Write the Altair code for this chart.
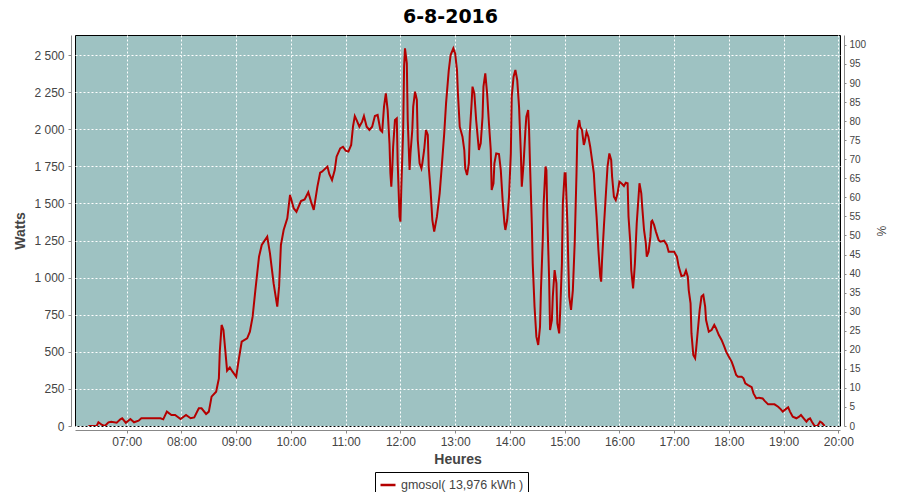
import altair as alt
import pandas as pd

TITLE = "6-8-2016"
SERIES = "gmosol( 13,976 kWh )"

times = [
    "06:18", "06:27", "06:29", "06:33", "06:36", "06:40", "06:43", "06:49", "06:53", "06:55", "06:59",
    "07:04", "07:08", "07:13", "07:16", "07:37", "07:40", "07:44", "07:49", "07:53", "07:59",
    "08:05", "08:10", "08:14", "08:19", "08:22", "08:27", "08:30", "08:33", "08:38", "08:41", "08:42", "08:44", "08:46", "08:48", "08:50", "08:53", "08:56",
    "09:00", "09:03", "09:06", "09:12", "09:15", "09:18", "09:21", "09:25", "09:28", "09:34", "09:37", "09:41", "09:45", "09:47", "09:49", "09:52", "09:56", "09:59",
    "10:03", "10:06", "10:11", "10:15", "10:19", "10:22", "10:25", "10:29", "10:32", "10:34", "10:40", "10:42", "10:45", "10:48", "10:50", "10:54", "10:57",
    "11:00", "11:03", "11:06", "11:08", "11:10", "11:12", "11:15", "11:18", "11:20", "11:23", "11:26", "11:29", "11:32", "11:35", "11:38", "11:40", "11:42", "11:44", "11:46", "11:48", "11:49", "11:50", "11:51", "11:52", "11:54", "11:56", "11:57", "11:59",
    "12:00", "12:01", "12:03", "12:04", "12:05", "12:07", "12:08", "12:10", "12:11", "12:13", "12:14", "12:16", "12:18", "12:19", "12:21", "12:23", "12:24", "12:26", "12:28", "12:30", "12:31", "12:33", "12:35", "12:37", "12:40", "12:43", "12:45", "12:48", "12:50", "12:53", "12:55", "12:58",
    "13:00", "13:02", "13:03", "13:05", "13:08", "13:10", "13:11", "13:13", "13:15", "13:16", "13:18", "13:19", "13:21", "13:23", "13:25", "13:26", "13:28", "13:30", "13:31", "13:33", "13:35", "13:37", "13:39", "13:40", "13:42", "13:43", "13:45", "13:48", "13:50", "13:52", "13:54", "13:55", "13:57", "13:59",
    "14:01", "14:02", "14:04", "14:06", "14:08", "14:10", "14:12", "14:13", "14:15", "14:17", "14:18", "14:20", "14:21", "14:22", "14:24", "14:25", "14:27", "14:29", "14:31", "14:33", "14:34", "14:36", "14:37", "14:39", "14:40", "14:41", "14:43", "14:44", "14:46", "14:47", "14:49", "14:51", "14:52", "14:54", "14:55", "14:57", "14:58",
    "15:00", "15:01", "15:03", "15:04", "15:05", "15:07", "15:09", "15:11", "15:13", "15:14", "15:16", "15:17", "15:19", "15:21", "15:22", "15:24", "15:26", "15:28", "15:30", "15:32", "15:33", "15:35", "15:37", "15:39", "15:40", "15:41", "15:43", "15:45", "15:47", "15:49", "15:51", "15:52", "15:54", "15:56", "15:58",
    "16:00", "16:03", "16:05", "16:07", "16:09", "16:10", "16:12", "16:13", "16:15", "16:16", "16:17", "16:19", "16:21", "16:22", "16:24", "16:25", "16:27", "16:29", "16:30", "16:32", "16:34", "16:35", "16:36", "16:38", "16:40", "16:43", "16:45", "16:49", "16:52", "16:54", "16:57",
    "17:00", "17:03", "17:05", "17:08", "17:11", "17:13", "17:15", "17:16", "17:18", "17:19", "17:21", "17:23", "17:24", "17:26", "17:28", "17:30", "17:32", "17:34", "17:35", "17:38", "17:41", "17:44", "17:46", "17:49", "17:52", "17:55", "17:57",
    "18:00", "18:03", "18:05", "18:08", "18:10", "18:14", "18:16", "18:18", "18:21", "18:25", "18:27", "18:30", "18:33", "18:37", "18:39", "18:43", "18:46", "18:50", "18:54", "18:57", "18:59",
    "19:02", "19:05", "19:07", "19:10", "19:14", "19:17", "19:19", "19:22", "19:25", "19:27", "19:29", "19:31", "19:34", "19:37", "19:40", "19:42", "19:45",
]

watts = [
    0, 0, 25, 7, 0, 25, 29, 22, 45, 52, 22,
    47, 25, 36, 52, 52, 45, 97, 74, 74, 47,
    74, 52, 58, 119, 119, 81, 97, 198, 231, 321, 501, 681, 647, 512, 373, 395, 366,
    332, 456, 568, 591, 636, 737, 916, 1141, 1220, 1276, 1163, 961, 804, 939, 1220, 1321, 1399, 1557,
    1467, 1444, 1516, 1527, 1575, 1512, 1456, 1613, 1707, 1714, 1748, 1698, 1658, 1725, 1815, 1871, 1882,
    1855, 1849, 1894, 2017, 2089, 2062, 2017, 2051, 2089, 2017, 1995, 2017, 2089, 2096, 1995, 1983, 2152, 2242, 2129, 1905, 1703, 1613, 1725, 1882, 2062, 2073, 1770, 1411,
    1377, 1613, 1995, 2421, 2545, 2444, 2062, 1725, 1837, 1995, 2152, 2253, 2197, 1927, 1770, 1736, 1770, 1860, 1995, 1961, 1748, 1591, 1388, 1310, 1411, 1568, 1725, 1972, 2174, 2399, 2500, 2545,
    2511, 2399, 2242, 2017, 1950, 1860, 1736, 1691, 1770, 1972, 2174, 2287, 2242, 2062, 1927, 1860, 1905, 2084, 2287, 2377, 2242, 2040, 1860, 1591, 1636, 1770, 1837, 1833, 1725, 1523, 1366, 1321, 1388, 1545,
    1837, 2220, 2354, 2399, 2332, 2152, 1837, 1613, 1770, 1995, 2084, 2129, 1995, 1770, 1366, 1096, 804, 602, 546, 669, 916, 1253, 1500, 1748, 1725, 1411, 984, 647, 714, 872, 1051, 961, 692, 624, 759, 1096, 1500,
    1703, 1703, 1366, 1096, 872, 782, 916, 1231, 1703, 1995, 2062, 2017, 1995, 1894, 1916, 1983, 1950, 1882, 1793, 1703, 1591, 1411, 1186, 1006, 973, 1119, 1343, 1545, 1748, 1837, 1793, 1681, 1545, 1523, 1568,
    1647, 1631, 1617, 1640, 1636, 1411, 1231, 1051, 928, 1006, 1096, 1366, 1545, 1636, 1568, 1478, 1321, 1231, 1141, 1175, 1276, 1377, 1384, 1355, 1310, 1253, 1242, 1249, 1220, 1175, 1175,
    1175, 1141, 1074, 1011, 1015, 1047, 1006, 916, 827, 624, 478, 456, 512, 647, 782, 872, 883, 804, 714, 636, 647, 681, 658, 613, 580, 535, 501,
    467, 434, 400, 344, 332, 332, 321, 288, 276, 261, 220, 186, 191, 186, 171, 146, 146, 146, 130, 112, 97,
    112, 126, 97, 63, 52, 63, 74, 52, 29, 45, 52, 29, 0, 0, 29, 22, 0,
]

x_ticks = list(range(7, 21))
w_ticks = list(range(0, 2501, 250))
pct_ticks = list(range(0, 101, 5))

X_DOMAIN = [6.055, 20.03]
W_DOMAIN = [0, 2635]
P_DOMAIN = [0, 102.6]

n = min(len(times), len(watts))
hours = [int(t[:2]) + int(t[3:]) / 60 for t in times[:n]]
df = pd.DataFrame({"h": hours, "w": watts[:n], "s": [SERIES] * n})
pct_df = pd.DataFrame({"p": [0, 100]})

FONT = "Liberation Sans"
TFONT = "DejaVu Sans"
LINE = "#B40000"

line = alt.Chart(df).mark_line(strokeWidth=2, clip=True).encode(
    x=alt.X(
        "h:Q",
        scale=alt.Scale(domain=X_DOMAIN, nice=False, zero=False),
        axis=alt.Axis(
            values=x_ticks,
            labelExpr="(datum.value < 10 ? '0' : '') + datum.value + ':00'",
            title="Heures",
            offset=4,
            tickSize=3,
            labelPadding=3,
            titlePadding=5,
            grid=True,
            gridColor="white",
            gridDash=[2, 2],
            gridOpacity=1,
        ),
    ),
    y=alt.Y(
        "w:Q",
        scale=alt.Scale(domain=W_DOMAIN, nice=False),
        axis=alt.Axis(
            values=w_ticks,
            labelExpr="replace(format(datum.value, ','), ',', ' ')",
            title="Watts",
            offset=4,
            tickSize=3,
            labelPadding=4,
            titlePadding=6,
            grid=True,
            gridColor="white",
            gridDash=[2, 2],
            gridOpacity=1,
        ),
    ),
    color=alt.Color(
        "s:N",
        scale=alt.Scale(range=[LINE]),
        legend=alt.Legend(
            title=None,
            orient="none",
            legendX=300,
            legendY=437,
            padding=4,
            strokeColor="black",
            fillColor="white",
            symbolType="stroke",
            symbolSize=225,
            symbolStrokeWidth=2.5,
            labelFontSize=12.5,
            labelFont=FONT,
            labelColor="#444444",
            labelOffset=4,
        ),
    ),
)

right = alt.Chart(pct_df).mark_point(opacity=0).encode(
    x=alt.value(0),
    y=alt.Y(
        "p:Q",
        scale=alt.Scale(domain=P_DOMAIN, nice=False),
        axis=alt.Axis(
            orient="right",
            values=pct_ticks,
            title="%",
            offset=4,
            tickSize=2,
            labelPadding=3,
            labelFontSize=10,
            titlePadding=8,
            titleFontSize=12,
            titleFontWeight="normal",
            grid=False,
        ),
    ),
)

chart = (
    alt.layer(line, right)
    .resolve_scale(y="independent")
    .properties(
        width=765,
        height=391,
        autosize=alt.AutoSizeParams(type="none"),
        padding={"left": 67, "top": 27, "right": 52, "bottom": 66},
        background="white",
        title=alt.TitleParams(
            TITLE, fontSize=19, fontWeight="bold", font=TFONT, color="black",
            offset=8, dx=-7, anchor="middle",
        ),
    )
    .configure_view(fill="#9EC2C2", stroke="black", strokeWidth=1)
    .configure_axis(
        domainColor="#888888",
        tickColor="#888888",
        labelColor="#444444",
        labelFont=FONT,
        labelFontSize=12,
        titleFont=FONT,
        titleFontSize=14,
        titleFontWeight="bold",
        titleColor="#444444",
    )
)

chart.save("out.html", embed_options={"renderer": "svg", "actions": False})
